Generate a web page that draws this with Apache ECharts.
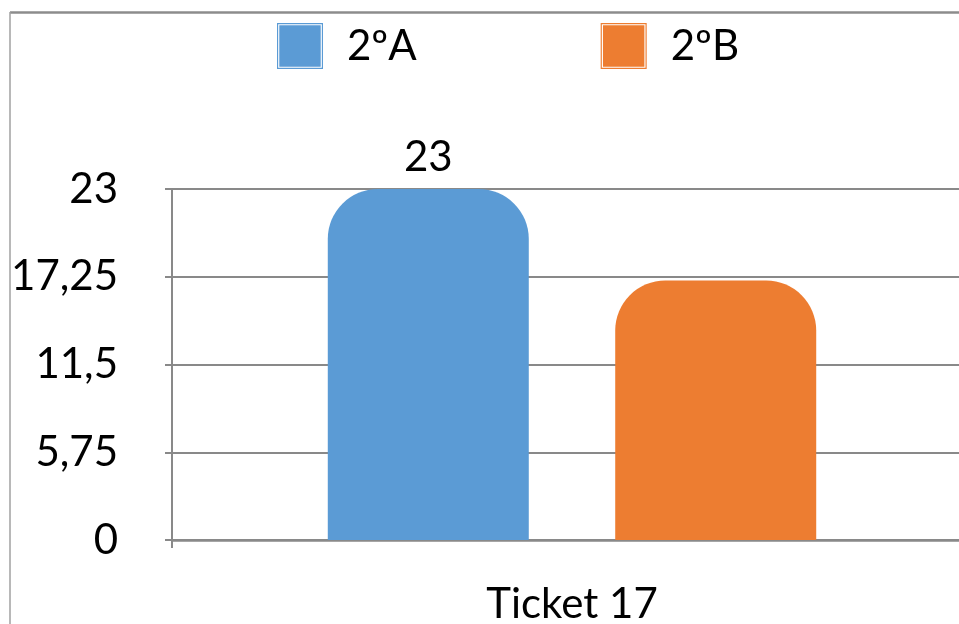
<!DOCTYPE html>
<html>
<head>
<meta charset="utf-8">
<script src="https://cdn.jsdelivr.net/npm/echarts@6/dist/echarts.min.js"></script>
<style>
html,body{margin:0;padding:0;background:#fff;}
#main{width:959px;height:624px;}
</style>
</head>
<body>
<div id="main"></div>
<script>
const categories = ['Ticket 17'];
const seriesNames = ['2ºA', '2ºB'];
const valuesA = [23];
const valuesB = [17];
const yTicks = [0, 5.75, 11.5, 17.25, 23];
const colors = ['#5B9BD5', '#ED7D31'];

const FONT = 'Lato';
const iconPath = 'path://M0,0H48V48H0Z M1.2,1.2V46.8H46.8V1.2Z M2.4,2.4H45.6V45.6H2.4Z';

const chart = echarts.init(document.getElementById('main'), null, {renderer: 'canvas'});
chart.setOption({
  backgroundColor: '#ffffff',
  animation: false,
  textStyle: {fontFamily: FONT, color: '#000'},
  legend: {
    left: 272,
    top: 18,
    itemWidth: 46,
    itemHeight: 46,
    itemGap: 184,
    icon: iconPath,
    data: seriesNames,
    textStyle: {fontFamily: FONT, fontSize: 42, color: '#000', padding: [0, 0, 0, 19]}
  },
  grid: {left: 172, width: 800, top: 189, height: 351, containLabel: false, outerBoundsMode: 'none'},
  xAxis: {
    type: 'category',
    data: categories,
    axisLine: {show: true, lineStyle: {color: '#898989', width: 2.5}},
    axisTick: {show: true, length: 8, lineStyle: {color: '#898989', width: 2}},
    axisLabel: {fontFamily: FONT, fontSize: 42, color: '#000', margin: 43}
  },
  yAxis: {
    type: 'value',
    min: yTicks[0],
    max: yTicks[yTicks.length - 1],
    interval: yTicks[1] - yTicks[0],
    axisLine: {show: true, lineStyle: {color: '#898989', width: 2}},
    axisTick: {show: true, length: 7, lineStyle: {color: '#898989', width: 2}},
    splitLine: {show: true, lineStyle: {color: '#898989', width: 2}},
    axisLabel: {
      fontFamily: FONT, fontSize: 42, color: '#000', margin: 54,
      formatter: v => String(v).replace('.', ',')
    }
  },
  series: [
    {
      name: seriesNames[0],
      type: 'bar',
      data: valuesA,
      barWidth: 201,
      barGap: '43%',
      itemStyle: {color: colors[0], borderRadius: [50, 50, 0, 0]},
      label: {show: true, position: 'top', distance: 11, fontFamily: FONT, fontSize: 42, color: '#000'}
    },
    {
      name: seriesNames[1],
      type: 'bar',
      data: valuesB,
      barWidth: 201,
      barGap: '43%',
      itemStyle: {color: colors[1], borderRadius: [50, 50, 0, 0]}
    }
  ],
  graphic: [
    {type: 'line', shape: {x1: 10, y1: 12.5, x2: 970, y2: 12.5}, style: {stroke: '#8c8c8c', lineWidth: 2.5}, silent: true},
    {type: 'line', shape: {x1: 10, y1: 12, x2: 10, y2: 630}, style: {stroke: '#a0a0a0', lineWidth: 1.5}, silent: true}
  ]
});
</script>
</body>
</html>
